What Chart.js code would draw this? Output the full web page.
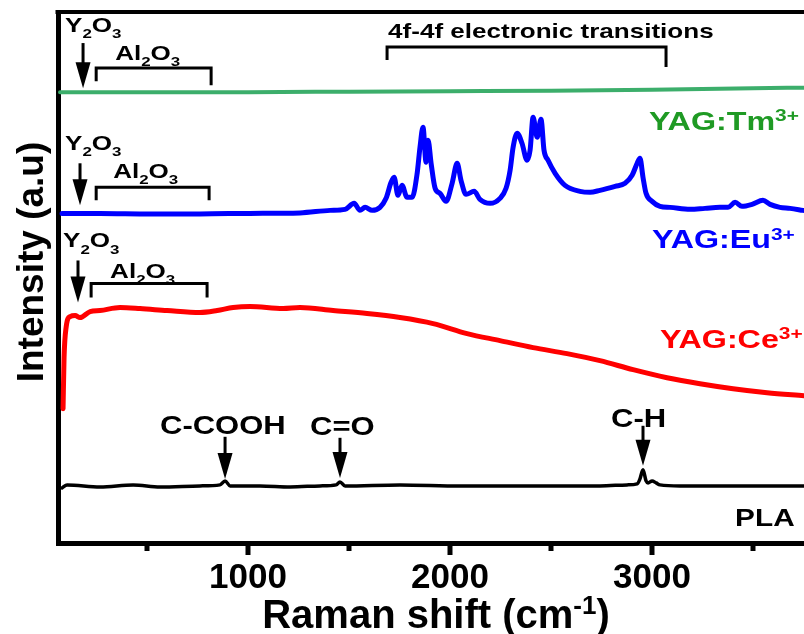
<!DOCTYPE html>
<html>
<head>
<meta charset="utf-8">
<title>Raman spectra</title>
<script src="https://cdn.jsdelivr.net/npm/chart.js@4/dist/chart.umd.min.js"></script>
<style>
  html, body { margin: 0; padding: 0; background: #fff; }
  canvas { display: block; }
</style>
</head>
<body>
<canvas id="ramanChart" width="804" height="634"></canvas>
<script>
// Raman shift (cm-1) and stacked intensity (a.u.) for each sample
const tmShift = [69, 500, 1000, 1500, 2000, 2500, 3000, 3500, 3752];
const tmIntensity = [90.0, 90.0, 90.0, 90.1, 90.2, 90.3, 90.5, 90.8, 90.9];

const euShift = [79, 267, 515, 762, 1010, 1257, 1406, 1480, 1525, 1554, 1579, 1614, 1653, 1683, 1708, 1723,
    1742, 1762, 1787, 1812, 1837, 1851, 1866, 1881, 1891, 1906, 1926, 1950, 1980, 2010, 2035, 2054, 2079, 2119,
    2148, 2198, 2247, 2277, 2297, 2312, 2332, 2356, 2381, 2396, 2411, 2431, 2450, 2465, 2485, 2520, 2569, 2643,
    2693, 2742, 2817, 2866, 2901, 2926, 2940, 2955, 2970, 3000, 3039, 3089, 3188, 3262, 3336, 3376, 3411, 3445,
    3495, 3549, 3584, 3633, 3683, 3747];
const euIntensity = [65.8, 65.8, 65.7, 65.7, 65.8, 65.9, 66.4, 66.6, 67.8, 66.4, 67.0, 66.4, 67.0, 68.8, 72.0, 73.0,
    69.4, 71.4, 69.0, 69.0, 73.8, 79.0, 83.0, 76.0, 80.4, 75.8, 70.8, 69.8, 68.2, 71.8, 75.8, 72.4, 69.6, 70.2,
    68.6, 67.8, 68.8, 70.8, 74.4, 79.0, 81.8, 79.8, 76.4, 78.4, 85.0, 81.0, 84.6, 78.4, 76.4, 73.8, 71.4, 70.2,
    70.0, 70.4, 71.2, 71.8, 73.4, 75.8, 76.8, 73.0, 69.8, 68.2, 67.2, 67.0, 66.6, 66.8, 67.0, 67.0, 68.0, 67.2,
    67.6, 68.4, 67.6, 67.0, 66.8, 66.4];

const ceShift = [84, 89, 99, 119, 144, 168, 218, 267, 366, 465, 599, 762, 847, 926, 1010, 1173, 1257, 1421, 1589,
    1752, 1916, 2084, 2247, 2411, 2579, 2742, 2906, 3074, 3237, 3401, 3569, 3752];
const ceIntensity = [26.8, 37.0, 43.0, 45.2, 45.4, 45.0, 46.2, 46.4, 47.0, 46.8, 46.4, 46.0, 46.4, 47.0, 47.2, 46.8,
    47.0, 46.4, 45.8, 45.0, 43.8, 41.8, 40.4, 39.0, 37.8, 36.4, 34.6, 33.0, 31.8, 30.8, 30.0, 29.4];

const plaShift = [79, 104, 267, 431, 564, 762, 861, 886, 911, 1059, 1208, 1356, 1436, 1455, 1480, 1752, 2049, 2742,
    2876, 2926, 2940, 2955, 2970, 2980, 3000, 3020, 3039, 3138, 3752];
const plaIntensity = [11.0, 11.6, 11.2, 11.6, 11.2, 11.4, 11.6, 12.4, 11.4, 11.4, 11.2, 11.4, 11.6, 12.2, 11.4, 11.6,
    11.4, 11.4, 11.6, 11.8, 12.8, 14.6, 12.4, 12.0, 12.4, 12.0, 11.6, 11.4, 11.4];

const majorTicks = [1000, 2000, 3000];
const minorTicks = [500, 1500, 2500, 3500];

const FONT = '"Liberation Sans", Arial, sans-serif';

// labels and markers, placed in data units (shift, intensity)
const oxideMarks = [
    { yx: 94, yy: 102.0, arrowX: 183, arrowY: [99.8, 90.8], alX: 342, alY: 96.4, bx: [248, 817], by: 94.8, legs: [92.2, 91.4] },
    { yx: 94, yy: 78.4, arrowX: 168, arrowY: [75.8, 67.4], alX: 332, alY: 72.8, bx: [248, 807], by: 71.0, legs: [68.4, 68.4] },
    { yx: 84, yy: 59.0, arrowX: 158, arrowY: [56.4, 48.0], alX: 317, alY: 53.0, bx: [223, 797], by: 51.8, legs: [49.0, 49.0] }
];
const plaPeaks = [
    { name: 'C-COOH', tx: 564, ty: 21.8, ax: 886, ay: [21.2, 12.8] },
    { name: 'C=O', tx: 1307, ty: 21.6, ax: 1455, ay: [21.0, 13.0] },
    { name: 'C-H', tx: 2797, ty: 23.2, ax: 2955, ay: [23.4, 15.4] }
];
const sampleLabels = [
    { text: 'YAG:Tm^{3+}', x: 2985, y: 82.4, color: '#1f9a24', size: 26 },
    { text: 'YAG:Eu^{3+}', x: 3000, y: 58.8, color: '#0000ff', size: 26 },
    { text: 'YAG:Ce^{3+}', x: 3039, y: 39.0, color: '#ff0000', size: 26 },
    { text: 'PLA', x: 3411, y: 3.4, color: '#000000', size: 24 }
];

function toPoints(xs, ys) {
    return xs.map((x, i) => ({ x: x, y: ys[i] }));
}

// "_{..}" is a subscript, "^{..}" a superscript
function parseRich(text) {
    const parts = [];
    const re = /([_^])\{([^}]*)\}|([^_^]+)/g;
    let m;
    while ((m = re.exec(text))) {
        if (m[3]) parts.push({ t: m[3], shift: 0 });
        else parts.push({ t: m[2], shift: m[1] === '_' ? 1 : -1 });
    }
    return parts;
}

function drawRich(ctx, text, px, py, size, color, stretch, align) {
    const parts = parseRich(text);
    let width = 0;
    parts.forEach(p => {
        p.size = p.shift ? size * 0.65 : size;
        ctx.font = `bold ${p.size}px ${FONT}`;
        p.w = ctx.measureText(p.t).width;
        width += p.w;
    });
    ctx.save();
    ctx.translate(px, py);
    ctx.scale(stretch, 1);
    ctx.fillStyle = color;
    ctx.textAlign = 'left';
    ctx.textBaseline = 'alphabetic';
    let cx = align === 'center' ? -width / 2 : 0;
    parts.forEach(p => {
        ctx.font = `bold ${p.size}px ${FONT}`;
        const dy = p.shift === 1 ? size * 0.29 : (p.shift === -1 ? -size * 0.34 : 0);
        ctx.fillText(p.t, cx, dy);
        cx += p.w;
    });
    ctx.restore();
}

function drawArrow(ctx, x, y0, y1) {
    const head = 26, half = 7.5;
    ctx.beginPath();
    ctx.moveTo(x, y0);
    ctx.lineTo(x, y1 - head + 2);
    ctx.stroke();
    ctx.beginPath();
    ctx.moveTo(x - half, y1 - head);
    ctx.lineTo(x + half, y1 - head);
    ctx.lineTo(x, y1);
    ctx.closePath();
    ctx.fill();
}

function drawBracket(ctx, x0, x1, y, leg0, leg1) {
    ctx.beginPath();
    ctx.moveTo(x0, leg0);
    ctx.lineTo(x0, y);
    ctx.lineTo(x1, y);
    ctx.lineTo(x1, leg1);
    ctx.stroke();
}

const annotate = {
    id: 'annotate',
    afterDraw(chart) {
        const { ctx, chartArea, scales } = chart;
        const xs = scales.x, ys = scales.y;
        const px = v => xs.getPixelForValue(v);
        const py = v => ys.getPixelForValue(v);
        const stretch = 1.24;

        ctx.save();
        ctx.strokeStyle = '#000';
        ctx.fillStyle = '#000';
        ctx.lineCap = 'butt';

        // top edge of the frame
        ctx.lineWidth = 4;
        ctx.beginPath();
        ctx.moveTo(chartArea.left - 2.5, chartArea.top);
        ctx.lineTo(chartArea.right, chartArea.top);
        ctx.stroke();

        // outward tick marks and labels on the shift axis
        ctx.lineWidth = 5;
        majorTicks.forEach(v => {
            const x = Math.round(px(v));
            ctx.beginPath();
            ctx.moveTo(x, chartArea.bottom);
            ctx.lineTo(x, chartArea.bottom + 12);
            ctx.stroke();
            drawRich(ctx, String(v), x, chartArea.bottom + 45, 35, '#000', 1, 'center');
        });
        minorTicks.forEach(v => {
            const x = Math.round(px(v));
            ctx.beginPath();
            ctx.moveTo(x, chartArea.bottom);
            ctx.lineTo(x, chartArea.bottom + 8);
            ctx.stroke();
        });

        // Y2O3 arrow and Al2O3 range over each doped spectrum
        ctx.lineWidth = 3;
        oxideMarks.forEach(m => {
            drawRich(ctx, 'Y_{2}O_{3}', px(m.yx), py(m.yy), 21, '#000', stretch, 'left');
            drawArrow(ctx, px(m.arrowX), py(m.arrowY[0]), py(m.arrowY[1]));
            drawRich(ctx, 'Al_{2}O_{3}', px(m.alX), py(m.alY), 21, '#000', stretch, 'left');
            drawBracket(ctx, px(m.bx[0]), px(m.bx[1]), py(m.by), py(m.legs[0]), py(m.legs[1]));
        });

        // 4f-4f transitions range
        drawRich(ctx, '4f-4f electronic transitions', px(1693), py(100.8), 21, '#000', stretch, 'left');
        drawBracket(ctx, px(1688), px(3069), py(99.0), py(96.4), py(95.0));

        // PLA band assignments
        plaPeaks.forEach(p => {
            drawRich(ctx, p.name, px(p.tx), py(p.ty), 25, '#000', stretch, 'left');
            drawArrow(ctx, px(p.ax), py(p.ay[0]), py(p.ay[1]));
        });

        sampleLabels.forEach(s => {
            drawRich(ctx, s.text, px(s.x), py(s.y), s.size, s.color, stretch, 'left');
        });

        // axis titles
        drawRich(ctx, 'Raman shift (cm^{-1})', 436, 628, 40, '#000', 1, 'center');
        ctx.save();
        ctx.translate(43, 262);
        ctx.rotate(-Math.PI / 2);
        drawRich(ctx, 'Intensity (a.u)', 0, 0, 37, '#000', 1, 'center');
        ctx.restore();

        ctx.restore();
    }
};

const lineStyle = { pointRadius: 0, fill: false, cubicInterpolationMode: 'monotone', borderJoinStyle: 'round', borderCapStyle: 'round' };

new Chart(document.getElementById('ramanChart'), {
    type: 'line',
    data: {
        datasets: [
            { label: 'YAG:Tm3+', data: toPoints(tmShift, tmIntensity), borderColor: '#3cae6b', borderWidth: 4, ...lineStyle },
            { label: 'YAG:Eu3+', data: toPoints(euShift, euIntensity), borderColor: '#0000ff', borderWidth: 5, ...lineStyle },
            { label: 'YAG:Ce3+', data: toPoints(ceShift, ceIntensity), borderColor: '#ff0000', borderWidth: 5, ...lineStyle },
            { label: 'PLA', data: toPoints(plaShift, plaIntensity), borderColor: '#000000', borderWidth: 3.5, ...lineStyle }
        ]
    },
    options: {
        responsive: false,
        devicePixelRatio: 1,
        animation: false,
        layout: { padding: { left: 58, top: 12, right: 0, bottom: 91 } },
        plugins: {
            legend: { display: false },
            tooltip: { enabled: false }
        },
        scales: {
            x: {
                type: 'linear',
                min: 59,
                max: 3752,
                grid: { display: false, drawTicks: false },
                border: { display: true, color: '#000', width: 5 },
                ticks: { display: false }
            },
            y: {
                min: 0,
                max: 106,
                grid: { display: false, drawTicks: false },
                border: { display: true, color: '#000', width: 5 },
                ticks: { display: false }
            }
        }
    },
    plugins: [annotate]
});
</script>
</body>
</html>
